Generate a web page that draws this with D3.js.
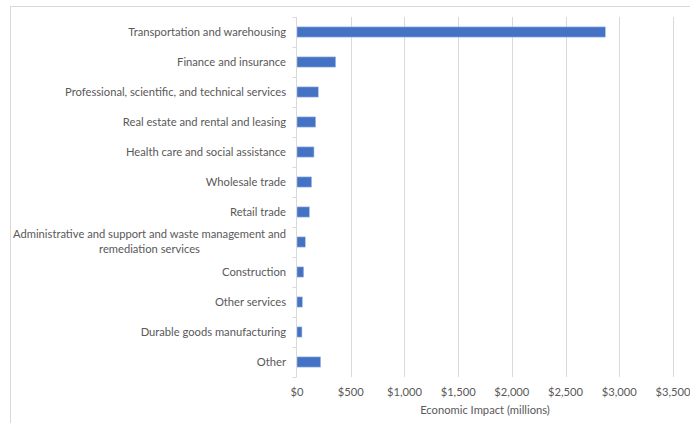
<!DOCTYPE html>
<html>
<head>
<meta charset="utf-8">
<script src="https://cdn.jsdelivr.net/npm/d3@7"></script>
<style>
  body { margin: 0; background: #fff; }
  svg text { font-family: Lato, "Open Sans", sans-serif; fill: #595959; }
</style>
</head>
<body>
<svg id="chart" width="690" height="423"></svg>
<script>
// Catégories (de haut en bas) et valeurs en millions de dollars
const categories = [
  "Transportation and warehousing",
  "Finance and insurance",
  "Professional, scientific, and technical services",
  "Real estate and rental and leasing",
  "Health care and social assistance",
  "Wholesale trade",
  "Retail trade",
  "Administrative and support and waste management and remediation services",
  "Construction",
  "Other services",
  "Durable goods manufacturing",
  "Other"
];
const impacts = [2870, 360, 198, 174, 158, 136, 115, 77, 62, 50, 46, 220];
const xTicks = [0, 500, 1000, 1500, 2000, 2500, 3000, 3500];
const xTitle = "Economic Impact (millions)";

const svg = d3.select("#chart");
const margin = { top: 17, left: 297, right: 17, bottom: 46 };
const width = 690, height = 423;
const fontSize = 11.2;

// cadre du graphique
svg.append("rect")
  .attr("x", 10.5).attr("y", 6.5)
  .attr("width", 690).attr("height", 430)
  .attr("fill", "none").attr("stroke", "#d9d9d9");

const x = d3.scaleLinear().domain([0, 3500]).range([margin.left, width - margin.right]);
const y = d3.scaleBand().domain(categories).range([margin.top, height - margin.bottom])
  .paddingInner(0.66).paddingOuter(0.33);

// grille verticale
svg.append("g").selectAll("line")
  .data(xTicks.slice(1))
  .enter().append("line")
  .attr("x1", d => Math.round(x(d)) + 0.5).attr("x2", d => Math.round(x(d)) + 0.5)
  .attr("y1", margin.top).attr("y2", height - margin.bottom)
  .attr("stroke", "#d9d9d9").attr("stroke-width", 1);

// barres
svg.append("g").selectAll("rect")
  .data(categories)
  .enter().append("rect")
  .attr("x", x(0))
  .attr("y", d => y(d))
  .attr("width", (d, i) => x(impacts[i]) - x(0))
  .attr("height", y.bandwidth())
  .attr("fill", "#4472c4")
  .attr("stroke", "#a9bde3").attr("stroke-width", 0.6);

// axe vertical + petites graduations entre catégories
const step = y.step();
const axisX = Math.round(x(0)) - 0.5;
const yAxis = svg.append("g").attr("stroke", "#d9d9d9");
yAxis.append("line")
  .attr("x1", axisX).attr("x2", axisX)
  .attr("y1", margin.top).attr("y2", height - margin.bottom);
yAxis.selectAll("line.tick")
  .data(d3.range(categories.length + 1))
  .enter().append("line")
  .attr("class", "tick")
  .attr("x1", axisX - 4).attr("x2", axisX)
  .attr("y1", i => Math.round(margin.top + i * step) + 0.5)
  .attr("y2", i => Math.round(margin.top + i * step) + 0.5);

// étiquettes des catégories (avec retour à la ligne)
const labelRight = 286;
const maxW = 280;
const labels = svg.append("g").attr("font-size", fontSize);
categories.forEach(cat => {
  const cy = y(cat) + y.bandwidth() / 2;
  const t = labels.append("text").attr("text-anchor", "end");
  // découpage glouton en lignes
  const words = cat.split(" ");
  const lines = [];
  let cur = [];
  words.forEach(w => {
    cur.push(w);
    t.text(cur.join(" "));
    if (t.node().getComputedTextLength() > maxW && cur.length > 1) {
      cur.pop();
      lines.push(cur.join(" "));
      cur = [w];
    }
  });
  lines.push(cur.join(" "));
  t.remove();

  const lh = 15;
  if (lines.length === 1) {
    labels.append("text")
      .attr("x", labelRight).attr("y", cy)
      .attr("dy", "0.35em").attr("text-anchor", "end")
      .text(lines[0]);
  } else {
    const g = labels.append("g");
    const texts = lines.map((l, i) => g.append("text")
      .attr("y", cy + (i - (lines.length - 1) / 2) * lh)
      .attr("dy", "0.35em").attr("text-anchor", "middle").text(l));
    const bw = d3.max(texts, tt => tt.node().getComputedTextLength());
    texts.forEach(tt => tt.attr("x", labelRight - bw / 2));
  }
});

// axe horizontal
svg.append("g").selectAll("text")
  .data(xTicks)
  .enter().append("text")
  .attr("x", d => x(d)).attr("y", 396)
  .attr("text-anchor", "middle").attr("font-size", fontSize)
  .text(d => d3.format("$,")(d));

svg.append("text")
  .attr("x", x(1750)).attr("y", 414)
  .attr("text-anchor", "middle").attr("font-size", fontSize)
  .text(xTitle);
</script>
</body>
</html>
